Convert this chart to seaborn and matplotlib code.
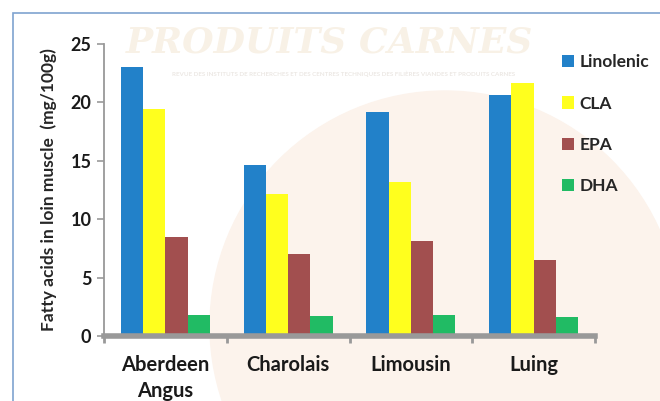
import numpy as np
import pandas as pd
import matplotlib
matplotlib.use('Agg')
import matplotlib.pyplot as plt
import seaborn as sns
from matplotlib.patches import Rectangle, Circle

# data
breeds = ['Aberdeen\nAngus', 'Charolais', 'Limousin', 'Luing']
acids = ['Linolenic', 'CLA', 'EPA', 'DHA']
linolenic = [23.0, 14.6, 19.2, 20.6]
cla = [19.4, 12.2, 13.2, 21.7]
epa = [8.5, 7.0, 8.1, 6.5]
dha = [1.8, 1.7, 1.8, 1.6]
colors = ['#2281C9', '#FFFF1E', '#A24F4F', '#21BB64']

df = pd.DataFrame({'breed': breeds * 4,
                   'acid': np.repeat(acids, 4),
                   'value': linolenic + cla + epa + dha})

sns.set_style('white')
plt.rcParams['font.family'] = ['Lato', 'DejaVu Sans']
plt.rcParams['font.weight'] = 'bold'

fig = plt.figure(figsize=(6.6, 4.01), dpi=100)
# faint watermark background (drawn under the axes)
fig.patches.append(Circle((4.45, 0.75), 2.35, transform=fig.dpi_scale_trans,
                          color='#FCF3EC', zorder=-2))
fig.text(0.5, 0.895, 'PRODUITS CARNES', ha='center', va='center', fontsize=26,
         style='italic', family='DejaVu Serif', color='#F8F1E6', zorder=-1)
fig.text(0.52, 0.815, 'REVUE DES INSTITUTS DE RECHERCHES ET DES CENTRES TECHNIQUES DES FILIÈRES VIANDES ET PRODUITS CARNES',
         ha='center', va='center', fontsize=4.5, color='#ECE8E4', zorder=-1)
# outer frame
fig.patches.append(Rectangle((13 / 660, -0.1), 1, 1.1 - 13 / 401, transform=fig.transFigure,
                             fill=False, edgecolor='#7FA3D0', lw=1.2, zorder=-1))

ax = fig.add_axes([104 / 660, 1 - 336 / 401, (595 - 104) / 660, (336 - 44) / 401])
ax.patch.set_alpha(0)
sns.barplot(data=df, x='breed', y='value', hue='acid', palette=colors,
            width=0.725, gap=0, saturation=1, linewidth=0, ax=ax, legend=True)

ax.set_ylim(0, 25)
ax.set_xlim(-0.5, 3.5)
ax.set_yticks([0, 5, 10, 15, 20, 25])
ax.set_xlabel('')
ax.set_ylabel('Fatty acids in loin muscle  (mg/100g)', fontsize=12.5, fontweight='bold', labelpad=10)
ax.tick_params(axis='y', labelsize=13, length=5, width=1.2, color='#999999', left=True, pad=4)
ax.tick_params(axis='x', labelsize=14.5, length=0, pad=14)
for lab in ax.get_xticklabels() + ax.get_yticklabels():
    lab.set_fontweight('bold')
    lab.set_color('#1A1A1A')
for lab in ax.get_xticklabels():
    lab.set_linespacing(1.35)
# category boundary ticks on the x axis
ax.set_xticks([-0.5, 0.5, 1.5, 2.5, 3.5], minor=True)
ax.tick_params(axis='x', which='minor', bottom=True, length=5, width=2, color='#999999')

for s in ['top', 'right']:
    ax.spines[s].set_visible(False)
ax.spines['left'].set_color('#999999')
ax.spines['left'].set_linewidth(1.3)
ax.spines['bottom'].set_color('#999999')
ax.spines['bottom'].set_linewidth(4)

ax.legend(title=None, loc='upper left', bbox_to_anchor=(0.9, 1.018), frameon=False,
          handlelength=0.7, handleheight=0.7, handletextpad=0.35, labelspacing=1.45,
          prop={'weight': 'bold', 'size': 12.5})

fig.savefig('out.png', dpi=100)
